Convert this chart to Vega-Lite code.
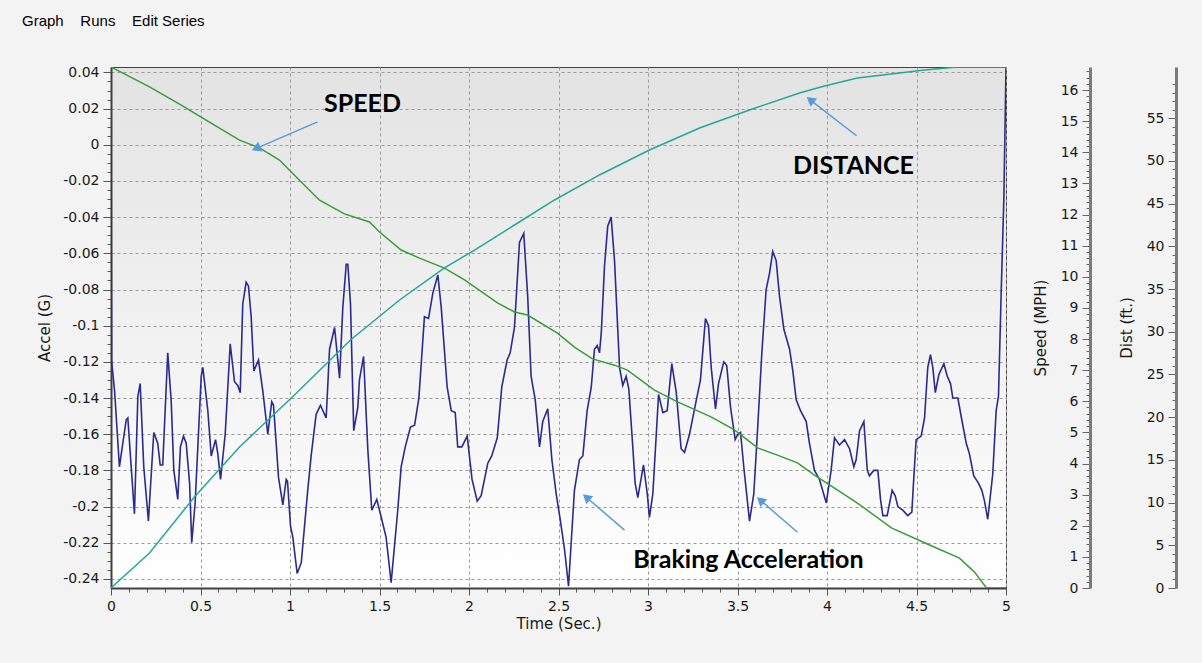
{
  "$schema": "https://vega.github.io/schema/vega-lite/v6.json",
  "width": 895,
  "height": 521,
  "autosize": {"type": "none"},
  "padding": {"left": 111, "top": 67, "right": 196, "bottom": 75},
  "background": "#f3f3f3",
  "title": {
    "text": "Graph\u00a0\u00a0\u00a0\u00a0Runs\u00a0\u00a0\u00a0\u00a0Edit Series",
    "anchor": "start", "frame": "group", "dx": -89, "offset": 20,
    "font": "Liberation Sans", "fontSize": 15, "fontWeight": "normal", "color": "#000000", "baseline": "bottom"
  },
  "config": {
    "view": {"stroke": "#404040", "strokeWidth": 1, "fill": {"gradient": "linear", "x1": 0, "y1": 0, "x2": 0, "y2": 1, "stops": [{"offset": 0, "color": "#e3e3e3"}, {"offset": 1, "color": "#ffffff"}]}},
    "axis": {
      "labelFont": "DejaVu Sans", "labelFontSize": 14, "labelColor": "#1a1a1a",
      "titleFont": "DejaVu Sans", "titleFontSize": 15, "titleFontWeight": "normal", "titleColor": "#1a1a1a",
      "labelOverlap": false, "labelFlush": false
    }
  },
  "datasets": {
    "accel": [
      {"t":0,"a":0},{"t":0.003,"a":-0.119},{"t":0.02,"a":-0.136},{"t":0.047,"a":-0.178},{"t":0.085,"a":-0.152},{"t":0.094,"a":-0.151},{"t":0.131,"a":-0.204},{"t":0.15,"a":-0.139},{"t":0.163,"a":-0.132},{"t":0.183,"a":-0.178},{"t":0.209,"a":-0.208},{"t":0.239,"a":-0.159},{"t":0.261,"a":-0.165},{"t":0.275,"a":-0.177},{"t":0.289,"a":-0.177},{"t":0.317,"a":-0.115},{"t":0.336,"a":-0.141},{"t":0.351,"a":-0.18},{"t":0.373,"a":-0.196},{"t":0.388,"a":-0.167},{"t":0.405,"a":-0.161},{"t":0.42,"a":-0.165},{"t":0.439,"a":-0.187},{"t":0.451,"a":-0.22},{"t":0.47,"a":-0.198},{"t":0.504,"a":-0.128},{"t":0.513,"a":-0.123},{"t":0.541,"a":-0.147},{"t":0.56,"a":-0.172},{"t":0.584,"a":-0.163},{"t":0.597,"a":-0.171},{"t":0.612,"a":-0.185},{"t":0.638,"a":-0.16},{"t":0.666,"a":-0.11},{"t":0.69,"a":-0.131},{"t":0.708,"a":-0.133},{"t":0.722,"a":-0.137},{"t":0.736,"a":-0.088},{"t":0.755,"a":-0.076},{"t":0.768,"a":-0.078},{"t":0.783,"a":-0.095},{"t":0.798,"a":-0.125},{"t":0.824,"a":-0.119},{"t":0.848,"a":-0.136},{"t":0.876,"a":-0.16},{"t":0.898,"a":-0.142},{"t":0.908,"a":-0.144},{"t":0.936,"a":-0.184},{"t":0.96,"a":-0.199},{"t":0.979,"a":-0.185},{"t":0.986,"a":-0.186},{"t":1.003,"a":-0.211},{"t":1.016,"a":-0.217},{"t":1.04,"a":-0.237},{"t":1.063,"a":-0.231},{"t":1.099,"a":-0.191},{"t":1.118,"a":-0.172},{"t":1.146,"a":-0.149},{"t":1.17,"a":-0.144},{"t":1.202,"a":-0.151},{"t":1.221,"a":-0.113},{"t":1.249,"a":-0.101},{"t":1.277,"a":-0.129},{"t":1.295,"a":-0.09},{"t":1.314,"a":-0.066},{"t":1.323,"a":-0.066},{"t":1.338,"a":-0.088},{"t":1.356,"a":-0.158},{"t":1.379,"a":-0.145},{"t":1.388,"a":-0.13},{"t":1.411,"a":-0.117},{"t":1.435,"a":-0.169},{"t":1.457,"a":-0.202},{"t":1.485,"a":-0.196},{"t":1.51,"a":-0.206},{"t":1.537,"a":-0.217},{"t":1.565,"a":-0.242},{"t":1.602,"a":-0.202},{"t":1.621,"a":-0.178},{"t":1.644,"a":-0.167},{"t":1.673,"a":-0.156},{"t":1.696,"a":-0.155},{"t":1.72,"a":-0.14},{"t":1.751,"a":-0.095},{"t":1.774,"a":-0.096},{"t":1.798,"a":-0.082},{"t":1.826,"a":-0.072},{"t":1.845,"a":-0.09},{"t":1.878,"a":-0.134},{"t":1.901,"a":-0.147},{"t":1.923,"a":-0.148},{"t":1.937,"a":-0.167},{"t":1.96,"a":-0.167},{"t":1.99,"a":-0.161},{"t":2.017,"a":-0.185},{"t":2.046,"a":-0.197},{"t":2.068,"a":-0.194},{"t":2.105,"a":-0.176},{"t":2.127,"a":-0.172},{"t":2.158,"a":-0.162},{"t":2.183,"a":-0.134},{"t":2.213,"a":-0.119},{"t":2.23,"a":-0.115},{"t":2.254,"a":-0.101},{"t":2.282,"a":-0.054},{"t":2.306,"a":-0.049},{"t":2.328,"a":-0.084},{"t":2.347,"a":-0.128},{"t":2.37,"a":-0.141},{"t":2.394,"a":-0.167},{"t":2.412,"a":-0.153},{"t":2.44,"a":-0.146},{"t":2.463,"a":-0.174},{"t":2.487,"a":-0.193},{"t":2.511,"a":-0.208},{"t":2.534,"a":-0.224},{"t":2.556,"a":-0.244},{"t":2.574,"a":-0.215},{"t":2.589,"a":-0.191},{"t":2.617,"a":-0.174},{"t":2.636,"a":-0.172},{"t":2.66,"a":-0.147},{"t":2.683,"a":-0.134},{"t":2.701,"a":-0.113},{"t":2.716,"a":-0.111},{"t":2.729,"a":-0.115},{"t":2.739,"a":-0.104},{"t":2.757,"a":-0.067},{"t":2.775,"a":-0.045},{"t":2.794,"a":-0.04},{"t":2.813,"a":-0.064},{"t":2.841,"a":-0.123},{"t":2.859,"a":-0.133},{"t":2.878,"a":-0.128},{"t":2.893,"a":-0.135},{"t":2.915,"a":-0.167},{"t":2.928,"a":-0.187},{"t":2.943,"a":-0.195},{"t":2.975,"a":-0.177},{"t":2.996,"a":-0.193},{"t":3.008,"a":-0.206},{"t":3.027,"a":-0.193},{"t":3.059,"a":-0.138},{"t":3.083,"a":-0.148},{"t":3.107,"a":-0.147},{"t":3.133,"a":-0.121},{"t":3.158,"a":-0.137},{"t":3.185,"a":-0.168},{"t":3.204,"a":-0.17},{"t":3.232,"a":-0.16},{"t":3.26,"a":-0.146},{"t":3.293,"a":-0.13},{"t":3.321,"a":-0.096},{"t":3.338,"a":-0.1},{"t":3.353,"a":-0.123},{"t":3.377,"a":-0.146},{"t":3.394,"a":-0.132},{"t":3.423,"a":-0.12},{"t":3.44,"a":-0.122},{"t":3.461,"a":-0.145},{"t":3.487,"a":-0.163},{"t":3.502,"a":-0.16},{"t":3.517,"a":-0.159},{"t":3.535,"a":-0.178},{"t":3.567,"a":-0.208},{"t":3.591,"a":-0.193},{"t":3.613,"a":-0.156},{"t":3.636,"a":-0.115},{"t":3.66,"a":-0.08},{"t":3.679,"a":-0.071},{"t":3.697,"a":-0.059},{"t":3.716,"a":-0.064},{"t":3.735,"a":-0.084},{"t":3.759,"a":-0.102},{"t":3.791,"a":-0.113},{"t":3.809,"a":-0.125},{"t":3.828,"a":-0.141},{"t":3.852,"a":-0.147},{"t":3.884,"a":-0.153},{"t":3.902,"a":-0.165},{"t":3.93,"a":-0.18},{"t":3.958,"a":-0.185},{"t":3.996,"a":-0.198},{"t":4.023,"a":-0.18},{"t":4.042,"a":-0.162},{"t":4.07,"a":-0.166},{"t":4.098,"a":-0.163},{"t":4.126,"a":-0.168},{"t":4.15,"a":-0.178},{"t":4.163,"a":-0.174},{"t":4.182,"a":-0.158},{"t":4.206,"a":-0.153},{"t":4.225,"a":-0.18},{"t":4.237,"a":-0.183},{"t":4.261,"a":-0.18},{"t":4.284,"a":-0.18},{"t":4.299,"a":-0.196},{"t":4.312,"a":-0.205},{"t":4.336,"a":-0.205},{"t":4.364,"a":-0.191},{"t":4.381,"a":-0.194},{"t":4.396,"a":-0.2},{"t":4.423,"a":-0.202},{"t":4.451,"a":-0.205},{"t":4.474,"a":-0.203},{"t":4.485,"a":-0.184},{"t":4.498,"a":-0.163},{"t":4.526,"a":-0.161},{"t":4.545,"a":-0.151},{"t":4.563,"a":-0.123},{"t":4.578,"a":-0.116},{"t":4.591,"a":-0.123},{"t":4.605,"a":-0.137},{"t":4.625,"a":-0.127},{"t":4.653,"a":-0.121},{"t":4.672,"a":-0.128},{"t":4.69,"a":-0.132},{"t":4.703,"a":-0.14},{"t":4.731,"a":-0.14},{"t":4.753,"a":-0.152},{"t":4.778,"a":-0.165},{"t":4.796,"a":-0.171},{"t":4.82,"a":-0.183},{"t":4.846,"a":-0.187},{"t":4.865,"a":-0.191},{"t":4.88,"a":-0.197},{"t":4.898,"a":-0.207},{"t":4.926,"a":-0.182},{"t":4.945,"a":-0.147},{"t":4.958,"a":-0.139},{"t":4.973,"a":-0.082},{"t":4.988,"a":-0.03},{"t":5.0,"a":0.043}
    ],
    "speed": [
      {"t":0,"s":16.74},{"t":0.215,"s":16.1},{"t":0.383,"s":15.55},{"t":0.55,"s":14.97},{"t":0.718,"s":14.39},{"t":0.83,"s":14.14},{"t":0.941,"s":13.75},{"t":1.053,"s":13.1},{"t":1.165,"s":12.46},{"t":1.304,"s":12.02},{"t":1.444,"s":11.76},{"t":1.5,"s":11.44},{"t":1.621,"s":10.86},{"t":1.723,"s":10.6},{"t":1.863,"s":10.28},{"t":1.975,"s":9.9},{"t":2.159,"s":9.16},{"t":2.254,"s":8.87},{"t":2.327,"s":8.77},{"t":2.494,"s":8.19},{"t":2.589,"s":7.74},{"t":2.69,"s":7.36},{"t":2.813,"s":7.16},{"t":2.885,"s":7.0},{"t":3.036,"s":6.36},{"t":3.165,"s":5.98},{"t":3.355,"s":5.49},{"t":3.483,"s":5.08},{"t":3.612,"s":4.5},{"t":3.723,"s":4.27},{"t":3.835,"s":4.02},{"t":3.93,"s":3.63},{"t":4.042,"s":3.21},{"t":4.17,"s":2.73},{"t":4.36,"s":1.93},{"t":4.573,"s":1.38},{"t":4.74,"s":0.96},{"t":4.824,"s":0.51},{"t":4.891,"s":0},{"t":5.0,"s":0}
    ],
    "dist": [
      {"t":0,"d":0},{"t":0.215,"d":4.1},{"t":0.466,"d":10.65},{"t":0.718,"d":16.51},{"t":1.025,"d":22.6},{"t":1.338,"d":29.04},{"t":1.612,"d":33.72},{"t":1.863,"d":37.47},{"t":2.031,"d":39.57},{"t":2.254,"d":42.5},{"t":2.478,"d":45.43},{"t":2.729,"d":48.36},{"t":3.008,"d":51.28},{"t":3.288,"d":53.86},{"t":3.567,"d":55.97},{"t":3.846,"d":57.95},{"t":3.986,"d":58.78},{"t":4.17,"d":59.71},{"t":4.545,"d":60.65},{"t":4.729,"d":61.0},{"t":5.0,"d":61.0}
    ],
    "notes": [
      {"t":1.405,"a":0.0227,"label":"SPEED"},
      {"t":4.148,"a":-0.0116,"label":"DISTANCE"},
      {"t":3.561,"a":-0.2297,"label":"Braking Acceleration"}
    ],
    "arrows": [
      {"id":"speed","t":1.154,"a":0.0127,"t2":0.818,"a2":-0.0017},
      {"id":"distance","t":4.165,"a":0.005,"t2":3.913,"a2":0.0243},
      {"id":"brake1","t":2.869,"a":-0.213,"t2":2.662,"a2":-0.1954},
      {"id":"brake2","t":3.835,"a":-0.2142,"t2":3.634,"a2":-0.197}
    ]
  },
  "layer": [
    {
      "data": {"name": "accel"},
      "mark": {"type": "line", "color": "#2b2b8c", "strokeWidth": 1.6, "clip": true},
      "encoding": {
        "x": {
          "field": "t", "type": "quantitative",
          "scale": {"domain": [0, 5], "nice": false, "zero": false},
          "axis": {
            "title": "Time (Sec.)",
            "values": [0,0.1,0.2,0.3,0.4,0.5,0.6,0.7,0.8,0.9,1,1.1,1.2,1.3,1.4,1.5,1.6,1.7,1.8,1.9,2,2.1,2.2,2.3,2.4,2.5,2.6,2.7,2.8,2.9,3,3.1,3.2,3.3,3.4,3.5,3.6,3.7,3.8,3.9,4,4.1,4.2,4.3,4.4,4.5,4.6,4.7,4.8,4.9,5],
            "tickCount": 300,
            "format": "~g",
            "labelOverlap": false, "labelFlush": false,
            "labelExpr": "abs(datum.value*2-round(datum.value*2))<0.001 ? replace(datum.label,'\u2212','-') : ''",
            "tickSize": {"condition": {"test": "abs(datum.value*2-round(datum.value*2))<0.001", "value": 7}, "value": 4},
            "tickColor": "#555555",
            "grid": true, "gridColor": "#999999", "gridDash": [3, 3],
            "gridOpacity": {"condition": {"test": "abs(datum.value*2-round(datum.value*2))<0.001", "value": 1}, "value": 0},
            "domainColor": "#404040", "domainWidth": 2,
            "labelPadding": 4, "titlePadding": 3
          }
        },
        "y": {
          "field": "a", "type": "quantitative",
          "scale": {"domain": [-0.245, 0.043], "nice": false, "zero": false},
          "axis": {
            "title": "Accel (G)",
            "values": [-0.24,-0.235,-0.23,-0.225,-0.22,-0.215,-0.21,-0.205,-0.2,-0.195,-0.19,-0.185,-0.18,-0.175,-0.17,-0.165,-0.16,-0.155,-0.15,-0.145,-0.14,-0.135,-0.13,-0.125,-0.12,-0.115,-0.11,-0.105,-0.1,-0.095,-0.09,-0.085,-0.08,-0.075,-0.07,-0.065,-0.06,-0.055,-0.05,-0.045,-0.04,-0.035,-0.03,-0.025,-0.02,-0.015,-0.01,-0.005,0,0.005,0.01,0.015,0.02,0.025,0.03,0.035,0.04],
            "tickCount": 300,
            "format": "~g",
            "labelOverlap": false,
            "labelExpr": "abs(datum.value*50-round(datum.value*50))<0.001 ? replace(datum.label,'\u2212','-') : ''",
            "tickSize": {"condition": {"test": "abs(datum.value*50-round(datum.value*50))<0.001", "value": 8}, "value": 4},
            "tickColor": "#555555",
            "grid": true, "gridColor": "#999999", "gridDash": [3, 3],
            "gridOpacity": {"condition": {"test": "abs(datum.value*50-round(datum.value*50))<0.001", "value": 1}, "value": 0},
            "domainColor": "#404040", "domainWidth": 2,
            "labelPadding": 4, "titlePadding": 10
          }
        }
      }
    },
    {
      "data": {"name": "speed"},
      "mark": {"type": "line", "color": "#3a9c3a", "strokeWidth": 1.5, "clip": true},
      "encoding": {
        "x": {"field": "t", "type": "quantitative", "scale": {"domain": [0, 5], "nice": false, "zero": false}},
        "y": {
          "field": "s", "type": "quantitative",
          "scale": {"domain": [0, 16.74], "nice": false, "zero": false},
          "axis": {
            "title": "Speed (MPH)", "orient": "left", "offset": -979,
            "values": [0,0.2,0.4,0.6,0.8,1,1.2,1.4,1.6,1.8,2,2.2,2.4,2.6,2.8,3,3.2,3.4,3.6,3.8,4,4.2,4.4,4.6,4.8,5,5.2,5.4,5.6,5.8,6,6.2,6.4,6.6,6.8,7,7.2,7.4,7.6,7.8,8,8.2,8.4,8.6,8.8,9,9.2,9.4,9.6,9.8,10,10.2,10.4,10.6,10.8,11,11.2,11.4,11.6,11.8,12,12.2,12.4,12.6,12.8,13,13.2,13.4,13.6,13.8,14,14.2,14.4,14.6,14.8,15,15.2,15.4,15.6,15.8,16,16.2,16.4,16.6],
            "tickCount": 300,
            "format": "~g",
            "labelOverlap": false,
            "labelExpr": "abs(datum.value-round(datum.value))<0.001 ? datum.label : ''",
            "tickSize": {"condition": {"test": "abs(datum.value-round(datum.value))<0.001", "value": 8}, "value": 4},
            "tickColor": "#666666",
            "grid": false,
            "domainColor": "#7a7a7a", "domainWidth": 3,
            "labelPadding": 4, "titlePadding": 12
          }
        }
      }
    },
    {
      "data": {"name": "dist"},
      "mark": {"type": "line", "color": "#26a69a", "strokeWidth": 1.5, "clip": true},
      "encoding": {
        "x": {"field": "t", "type": "quantitative", "scale": {"domain": [0, 5], "nice": false, "zero": false}},
        "y": {
          "field": "d", "type": "quantitative",
          "scale": {"domain": [0, 61], "nice": false, "zero": false},
          "axis": {
            "title": "Dist (ft.)", "orient": "left", "offset": -1065,
            "values": [0,1,2,3,4,5,6,7,8,9,10,11,12,13,14,15,16,17,18,19,20,21,22,23,24,25,26,27,28,29,30,31,32,33,34,35,36,37,38,39,40,41,42,43,44,45,46,47,48,49,50,51,52,53,54,55,56,57,58,59],
            "tickCount": 300,
            "format": "~g",
            "labelOverlap": false,
            "labelExpr": "abs(datum.value/5-round(datum.value/5))<0.001 ? datum.label : ''",
            "tickSize": {"condition": {"test": "abs(datum.value/5-round(datum.value/5))<0.001", "value": 8}, "value": 4},
            "tickColor": "#666666",
            "grid": false,
            "domainColor": "#7a7a7a", "domainWidth": 3,
            "labelPadding": 4, "titlePadding": 12
          }
        }
      }
    },
    {
      "layer": [
        {
          "data": {"name": "arrows"},
          "mark": {"type": "rule", "color": "#5b9bd5", "strokeWidth": 1.5},
          "encoding": {
            "x": {"field": "t", "type": "quantitative", "scale": {"domain": [0, 5], "nice": false, "zero": false}},
            "x2": {"field": "t2"},
            "y": {"field": "a", "type": "quantitative", "scale": {"domain": [-0.245, 0.043], "nice": false, "zero": false}, "axis": null},
            "y2": {"field": "a2"}
          }
        },
        {
          "data": {"name": "arrows"},
          "transform": [{"filter": "datum.id == 'speed'"}],
          "mark": {"type": "point", "shape": "triangle", "filled": true, "color": "#5b9bd5", "opacity": 1, "size": 110, "angle": 247},
          "encoding": {
            "x": {"field": "t2", "type": "quantitative", "scale": {"domain": [0, 5], "nice": false, "zero": false}},
            "y": {"field": "a2", "type": "quantitative", "scale": {"domain": [-0.245, 0.043], "nice": false, "zero": false}, "axis": null}
          }
        },
        {
          "data": {"name": "arrows"},
          "transform": [{"filter": "datum.id == 'distance'"}],
          "mark": {"type": "point", "shape": "triangle", "filled": true, "color": "#5b9bd5", "opacity": 1, "size": 110, "angle": 308},
          "encoding": {
            "x": {"field": "t2", "type": "quantitative", "scale": {"domain": [0, 5], "nice": false, "zero": false}},
            "y": {"field": "a2", "type": "quantitative", "scale": {"domain": [-0.245, 0.043], "nice": false, "zero": false}, "axis": null}
          }
        },
        {
          "data": {"name": "arrows"},
          "transform": [{"filter": "datum.id == 'brake1' || datum.id == 'brake2'"}],
          "mark": {"type": "point", "shape": "triangle", "filled": true, "color": "#5b9bd5", "opacity": 1, "size": 110, "angle": 311},
          "encoding": {
            "x": {"field": "t2", "type": "quantitative", "scale": {"domain": [0, 5], "nice": false, "zero": false}},
            "y": {"field": "a2", "type": "quantitative", "scale": {"domain": [-0.245, 0.043], "nice": false, "zero": false}, "axis": null}
          }
        },
        {
          "data": {"name": "notes"},
          "mark": {"type": "text", "font": "Lato", "fontSize": 25, "fontWeight": "bold", "color": "#000000", "align": "center", "baseline": "middle"},
          "encoding": {
            "x": {"field": "t", "type": "quantitative", "scale": {"domain": [0, 5], "nice": false, "zero": false}},
            "y": {"field": "a", "type": "quantitative", "scale": {"domain": [-0.245, 0.043], "nice": false, "zero": false}, "axis": null},
            "text": {"field": "label"}
          }
        }
      ]
    }
  ],
  "resolve": {"scale": {"y": "independent"}, "axis": {"y": "independent"}}
}
